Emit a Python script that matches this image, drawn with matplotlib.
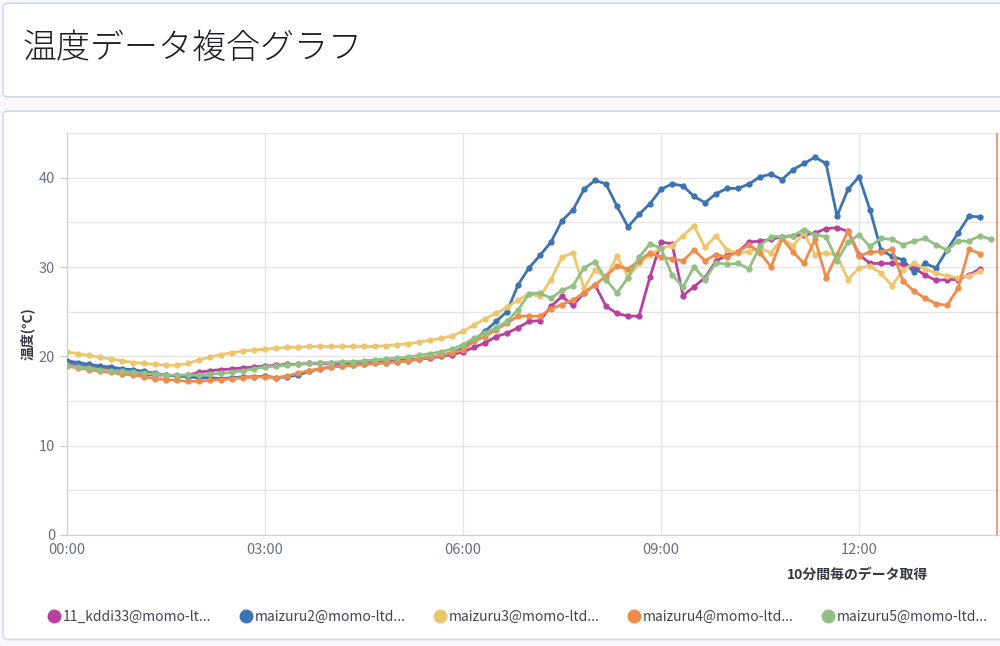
import numpy as np
import matplotlib
matplotlib.use("Agg")
import matplotlib.pyplot as plt
from matplotlib.lines import Line2D
from matplotlib.patches import FancyBboxPatch

plt.rcParams['font.family'] = ['Noto Sans CJK JP', 'DejaVu Sans']

title = "温度データ複合グラフ"
y_title = "温度(°C)"
x_title = "10分間毎のデータ取得"
tick_hours = [0, 3, 6, 9, 12]
tick_labels = ["00:00", "03:00", "06:00", "09:00", "12:00"]

names = ["11_kddi33@momo-lt...", "maizuru2@momo-ltd...", "maizuru3@momo-ltd...",
         "maizuru4@momo-ltd...", "maizuru5@momo-ltd..."]
colors = ["#b8409f", "#3d73b1", "#ecc66d", "#f08c4b", "#92c083"]

# readings every 10 minutes from 00:00
kddi33 = [19.2, 19.0, 18.8, 18.6, 18.5, 18.3, 18.2, 18.0, 17.9, 17.9, 17.8, 17.9,
          18.2, 18.4, 18.5, 18.6, 18.7, 18.8, 18.9, 19.0, 19.1, 19.1, 19.2, 19.2,
          19.2, 19.2, 19.3, 19.3, 19.4, 19.4, 19.5, 19.6, 19.7, 19.8, 20.0, 20.2,
          20.5, 21.0, 21.5, 22.2, 22.6, 23.2, 23.9, 24.0, 25.6, 26.7, 25.7, 27.1,
          28.0, 25.6, 24.8, 24.5, 24.5, 28.9, 32.8, 32.6, 26.8, 27.8, 28.8, 30.7,
          31.3, 31.7, 32.8, 32.9, 33.1, 33.4, 33.5, 33.6, 33.8, 34.3, 34.4, 34.0,
          31.4, 30.4, 30.4, 30.4, 30.3, 29.9, 29.1, 28.5, 28.6, 28.6, 29.1, 29.8]
maizuru2 = [19.5, 19.3, 19.1, 18.9, 18.8, 18.6, 18.5, 18.3, 18.1, 17.9, 17.8, 17.7,
            17.6, 17.6, 17.5, 17.6, 17.7, 17.7, 17.8, 17.6, 17.7, 17.9, 18.3, 18.6,
            18.8, 18.9, 19.0, 19.1, 19.2, 19.3, 19.4, 19.5, 19.7, 19.9, 20.1, 20.4,
            20.9, 21.8, 22.8, 23.9, 25.0, 28.0, 29.9, 31.3, 32.8, 35.2, 36.4, 38.7,
            39.7, 39.3, 36.8, 34.5, 35.9, 37.1, 38.7, 39.3, 39.1, 37.9, 37.2, 38.2,
            38.8, 38.8, 39.3, 40.1, 40.4, 39.8, 40.9, 41.6, 42.3, 41.6, 35.7, 38.7,
            40.1, 36.4, 31.9, 31.2, 30.8, 29.4, 30.4, 29.9, 31.9, 33.8, 35.7, 35.6]
maizuru3 = [20.5, 20.3, 20.1, 19.9, 19.7, 19.5, 19.3, 19.2, 19.1, 19.0, 19.0, 19.2,
            19.6, 19.9, 20.2, 20.4, 20.6, 20.7, 20.8, 20.9, 21.0, 21.0, 21.1, 21.1,
            21.1, 21.1, 21.1, 21.1, 21.1, 21.2, 21.3, 21.4, 21.6, 21.8, 22.0, 22.3,
            22.8, 23.5, 24.2, 24.8, 25.5, 26.3, 27.0, 26.7, 28.6, 31.1, 31.6, 27.6,
            29.7, 28.8, 31.2, 28.9, 30.4, 31.4, 32.1, 32.4, 33.5, 34.6, 32.2, 33.5,
            31.9, 31.6, 31.7, 32.1, 31.6, 33.2, 32.4, 33.8, 31.4, 31.6, 31.3, 28.6,
            29.9, 30.1, 29.3, 27.9, 29.7, 30.4, 29.8, 29.3, 29.0, 28.8, 29.0, 29.5]
maizuru4 = [18.9, 18.7, 18.5, 18.3, 18.2, 18.0, 17.9, 17.7, 17.5, 17.4, 17.3, 17.2,
            17.2, 17.3, 17.4, 17.5, 17.6, 17.7, 17.7, 17.6, 17.8, 18.1, 18.4, 18.6,
            18.8, 18.9, 19.0, 19.1, 19.2, 19.3, 19.4, 19.5, 19.7, 19.9, 20.1, 20.4,
            20.7, 21.7, 22.2, 23.0, 23.7, 24.5, 24.5, 24.5, 25.3, 25.8, 26.3, 27.1,
            28.0, 29.0, 30.1, 29.8, 30.7, 31.6, 31.1, 30.9, 30.7, 31.9, 30.7, 31.4,
            31.1, 31.7, 32.5, 31.6, 30.0, 33.2, 31.7, 30.4, 33.1, 28.8, 31.4, 34.0,
            31.2, 31.7, 31.7, 32.0, 28.4, 27.3, 26.5, 25.9, 25.7, 27.6, 32.0, 31.5]
maizuru5 = [19.0, 18.8, 18.7, 18.5, 18.4, 18.3, 18.2, 18.1, 18.0, 17.9, 17.9, 17.9,
            17.9, 18.0, 18.1, 18.2, 18.4, 18.6, 18.8, 18.9, 19.0, 19.1, 19.2, 19.3,
            19.3, 19.4, 19.4, 19.5, 19.6, 19.7, 19.8, 19.9, 20.1, 20.3, 20.5, 20.8,
            21.3, 22.0, 22.6, 23.2, 23.9, 25.2, 27.0, 27.1, 26.5, 27.4, 27.9, 29.9,
            30.6, 28.6, 27.1, 28.8, 31.1, 32.6, 32.1, 29.1, 27.8, 30.0, 28.6, 30.5,
            30.3, 30.4, 29.8, 32.4, 33.4, 33.4, 33.5, 34.2, 33.6, 33.4, 30.7, 32.8,
            33.6, 32.3, 33.2, 33.1, 32.5, 32.9, 33.2, 32.5, 31.9, 32.9, 32.9, 33.5, 33.1]
series = [kddi33, maizuru2, maizuru3, maizuru4, maizuru5]

fig = plt.figure(figsize=(10, 6.46), dpi=100)
fig.patch.set_facecolor("#f7f8fc")

# the two dashboard panels, drawn behind the axes
for (x0, y0, w, h) in [(0.003, 0.85, 1.05, 0.145), (0.003, 0.01, 1.05, 0.818)]:
    fig.patches.append(FancyBboxPatch((x0, y0), w, h, boxstyle="round,pad=0,rounding_size=0.006",
                                      transform=fig.transFigure, facecolor="white",
                                      edgecolor="#d3dae6", linewidth=1.2, zorder=-5))

fig.text(0.022, 0.925, title, fontsize=24.5, fontweight="light", color="#1a1c21",
         va="center", ha="left")

ax = fig.add_axes([0.067, 0.172, 0.933, 0.622])
ax.set_zorder(2)
for vals, c in zip(series, colors):
    hrs = np.arange(len(vals)) * 10 / 60
    ax.plot(hrs, vals, color=c, linewidth=2, marker="o", markersize=3.5, zorder=3)

ax.axvline(14.09, color="#e7664c", linewidth=1.2, alpha=0.8, zorder=4)

ax.set_xlim(0, 14.136)
ax.set_ylim(0, 45)
ax.set_xticks(tick_hours)
ax.set_xticklabels(tick_labels)
ax.set_yticks([0, 10, 20, 30, 40])
ax.set_yticks([5, 15, 25, 35, 45], minor=True)
ax.grid(True, which="both", axis="y", color="#e6e6e6", linewidth=1)
ax.grid(True, which="major", axis="x", color="#e6e6e6", linewidth=1)
ax.tick_params(axis="both", colors="#c8c8c8", labelcolor="#69707d", labelsize=10.5)
ax.tick_params(axis="y", which="minor", length=0)
ax.tick_params(axis="x", length=0, pad=6)
ax.tick_params(axis="y", length=5)
for side in ["top", "right"]:
    ax.spines[side].set_visible(False)
ax.spines["left"].set_color("#d0d0d0")
ax.spines["bottom"].set_color("#d0d0d0")
ax.set_ylabel(y_title, fontsize=10, fontweight="bold", color="#343741", labelpad=3)
fig.text(0.858, 0.11, x_title, fontsize=10, fontweight="bold", color="#343741", ha="center", va="center")

handles = [Line2D([], [], linestyle="none", marker="o", markersize=9, color=c) for c in colors]
fig.legend(handles, names, loc="center left", bbox_to_anchor=(0.035, 0.045), ncol=5,
           frameon=False, fontsize=10, handletextpad=0.1, columnspacing=2.0,
           handlelength=1.0, labelcolor="#404552")

fig.savefig("out.png", dpi=100, facecolor=fig.get_facecolor())
